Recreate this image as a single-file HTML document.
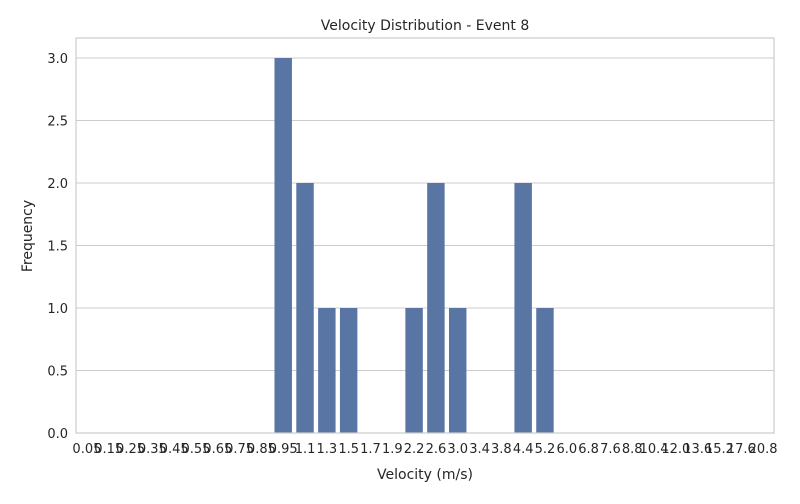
<!DOCTYPE html>
<html><head><meta charset="utf-8"><style>
body{margin:0;background:#fff;font-family:"DejaVu Sans","Liberation Sans",sans-serif;}
</style></head><body>
<svg id="chart" width="800" height="500" xmlns="http://www.w3.org/2000/svg">
<text x="425" y="30" text-anchor="middle" font-size="14" fill="#262626">Velocity Distribution - Event 8</text>
<text x="425" y="479" text-anchor="middle" font-size="14" fill="#262626">Velocity (m/s)</text>
<text transform="translate(32,236) rotate(-90)" text-anchor="middle" font-size="14" fill="#262626">Frequency</text>
<g id="grid"></g><g id="bars"></g><g id="xt"></g><g id="yt"></g>
<rect x="76" y="38" width="698" height="395" fill="none" stroke="#cccccc" stroke-width="1.2"/>
</svg>
<script>
const categories=["0.05","0.15","0.25","0.35","0.45","0.55","0.65","0.75","0.85","0.95","1.1","1.3","1.5","1.7","1.9","2.2","2.6","3.0","3.4","3.8","4.4","5.2","6.0","6.8","7.6","8.8","10.4","12.0","13.6","15.2","17.6","20.8"];
const counts=[0,0,0,0,0,0,0,0,0,3,2,1,1,0,0,1,2,1,0,0,2,1,0,0,0,0,0,0,0,0,0,0];
const yTicks=[0,0.5,1,1.5,2,2.5,3];
const L=76,R=774,T=38,B=433,yMax=3.16;
const ns="http://www.w3.org/2000/svg";
const bw=(R-L)/categories.length;
const x=i=>L+bw*(i+0.5);
const y=v=>B-(B-T)*v/yMax;
function mk(t,a,p){const e=document.createElementNS(ns,t);for(const k in a)e.setAttribute(k,a[k]);document.getElementById(p).appendChild(e);return e;}
yTicks.forEach(v=>{
 const g=mk("line",{x1:L,x2:R,y1:y(v),y2:y(v),stroke:"#cccccc","stroke-width":1.1},"grid");
 
 
 const t=mk("text",{x:L-8,y:y(v)+5,"text-anchor":"end","font-size":13,fill:"#262626"},"yt");
 t.textContent=v.toFixed(1);
 
 
});
categories.forEach((c,i)=>{
 if(counts[i]>0){
  const r=mk("rect",{x:x(i)-bw*0.4,y:y(counts[i]),width:bw*0.8,height:B-y(counts[i]),fill:"#5975a4"},"bars");
  
  
 }
 const t=mk("text",{x:x(i),y:B+20,"text-anchor":"middle","font-size":13,fill:"#262626"},"xt");
 t.textContent=c;
 
 
});
</script>
</body></html>
